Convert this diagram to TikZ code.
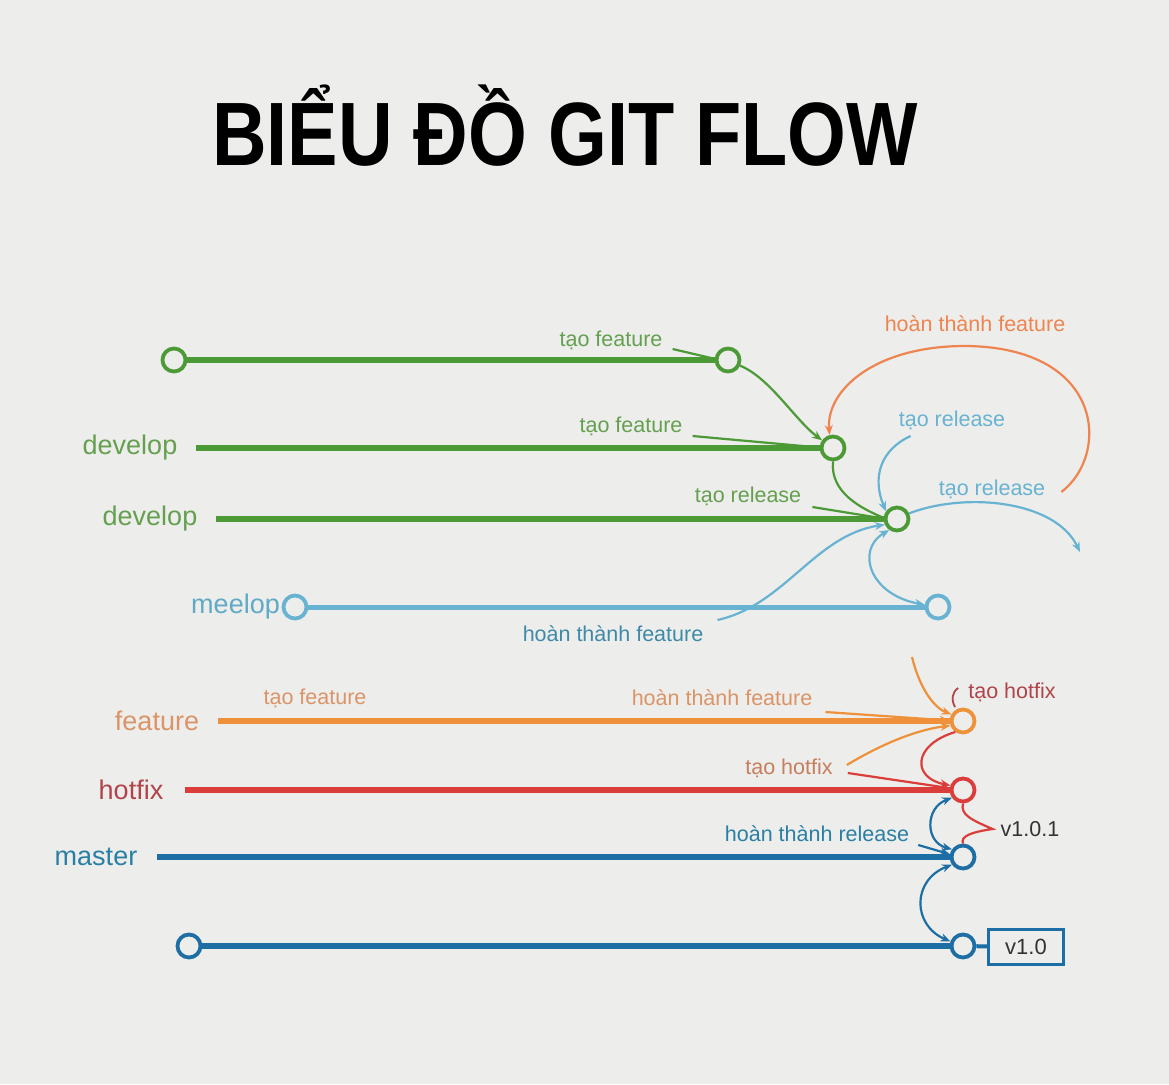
\documentclass[tikz,border=0pt]{standalone}
\usepackage{fontspec}
\setmainfont{Liberation Sans}
\usetikzlibrary{arrows.meta}
\definecolor{bg}{HTML}{EDEDEB}
\definecolor{cg}{HTML}{4C9A36}
\definecolor{tg}{HTML}{64A050}
\definecolor{cl}{HTML}{68B3D2}
\definecolor{tl}{HTML}{5FAAC5}
\definecolor{tl2}{HTML}{3E8AA8}
\definecolor{co}{HTML}{EE913A}
\definecolor{to}{HTML}{DB9468}
\definecolor{coa}{HTML}{EE8550}
\definecolor{cr}{HTML}{DB3E3A}
\definecolor{tr}{HTML}{B0444A}
\definecolor{tr2}{HTML}{C57E5E}
\definecolor{cb}{HTML}{1C6EA4}
\definecolor{tb}{HTML}{2A7FA5}
\definecolor{tk}{HTML}{333333}
\begin{document}
\begin{tikzpicture}[x=1pt,y=-1pt,
  commit/.style={circle, draw=#1, line width=3.8pt, minimum size=23pt, inner sep=0pt, fill=bg},
  branch/.style={line width=6.5pt, draw=#1},
  lbl/.style={font=\fontsize{27}{30}\selectfont, text=#1, inner sep=0pt},
  ann/.style={font=\fontsize{21.5}{24}\selectfont, text=#1, inner sep=0pt},
  flow/.style={line width=2.2pt, draw=#1, -{Stealth[length=10pt,width=8pt]}},
  bflow/.style={line width=2.2pt, draw=#1, {Stealth[length=10pt,width=8pt]}-{Stealth[length=10pt,width=8pt]}},
  lead/.style={line width=2.2pt, draw=#1}]
\fill[bg] (0,0) rectangle (1169,1084);
\useasboundingbox (0,0) rectangle (1169,1084);

% title
\node[anchor=base, inner sep=0pt, font=\bfseries\fontsize{90}{100}\selectfont] (title) at (565,165) {\scalebox{0.84}[1]{BIỂU ĐỒ GIT FLOW}};

% commits
\node[commit=cg] (g0) at (174,360) {};
\node[commit=cg] (g1) at (728,360) {};
\node[commit=cg] (g2) at (833,448) {};
\node[commit=cg] (g3) at (897,519) {};
\node[commit=cl] (m0) at (295,607) {};
\node[commit=cl] (m1) at (938,607) {};
\node[commit=co] (f1) at (963,721) {};
\node[commit=cr] (h1) at (963,790) {};
\node[commit=cb] (ma) at (963,857) {};
\node[commit=cb] (v0s) at (189,946) {};
\node[commit=cb] (v0) at (963,946) {};
\node[draw=cb, line width=2.5pt, minimum width=75pt, minimum height=35pt, inner sep=0pt, text=tk, font=\fontsize{22}{24}\selectfont] (box) at (1026,947) {v1.0};

% branch labels
\node[lbl=tg] (dev1) at (130,448) {develop};
\node[lbl=tg] (dev2) at (150,519) {develop};
\node[lbl=tl, anchor=east] (mee) at (280,607) {meelop};
\node[lbl=to] (feat) at (157,721) {feature};
\node[lbl=tr] (hot) at (131,790) {hotfix};
\node[lbl=tb] (mas) at (96,857) {master};

% annotation labels
\node[ann=tg] (tf1) at (611,340) {tạo feature};
\node[ann=tg] (tf2) at (631,426) {tạo feature};
\node[ann=tg] (trg) at (748,496) {tạo release};
\node[ann=coa] (hfo) at (975,324) {hoàn thành feature};
\node[ann=cl] (tr1) at (952,420) {tạo release};
\node[ann=cl] (tr2) at (992,489) {tạo release};
\node[ann=tl2] (hfb) at (613,634) {hoàn thành feature};
\node[ann=to] (tfo) at (315,698) {tạo feature};
\node[ann=to] (hff) at (722,698) {hoàn thành feature};
\node[ann=tr] (th1) at (1012,692) {tạo hotfix};
\node[ann=tr2] (th2) at (789,768) {tạo hotfix};
\node[ann=tb] (hfr) at (817,834) {hoàn thành release};
\node[ann=tk] (v101) at (1030,829) {v1.0.1};

% branches
\draw[branch=cg] (g0) -- (g1);
\draw[branch=cg] ([xshift=19pt]dev1.east) -- (g2);
\draw[branch=cg] ([xshift=19pt]dev2.east) -- (g3);
\draw[branch=cl, line width=5pt] (m0) -- (m1);
\draw[branch=co] ([xshift=19pt]feat.east) -- (f1);
\draw[branch=cr] ([xshift=22pt]hot.east) -- (h1);
\draw[branch=cb] ([xshift=20pt]mas.east) -- (ma);
\draw[branch=cb] (v0s) -- (v0);
\draw[branch=cb, line width=4pt] (v0) -- (box);

% green flows
\draw[lead=cg] ([shift={(10,9)}]tf1.east) -- (g1.175);
\draw[flow=cg] (g1.-25) .. controls (770,378) and (795,420) .. (g2.145);
\draw[lead=cg] ([shift={(10,10)}]tf2.east) -- (g2.178);
\draw[lead=cg] (g2.south) .. controls (830,492) and (860,508) .. (g3.175);
\draw[flow=cg] ([shift={(11,11)}]trg.east) -- (g3.178);

% orange loop
\coordinate (oa) at ([shift={(16,3)}]tr2.east);
\draw[flow=coa] (oa) .. controls (1110,455) and (1105,347) .. (965,346)
  .. controls (875,346) and (826,390) .. (g2.105);

% blue release flows
\draw[flow=cl] ([shift={(12,16)}]tr1.west) .. controls (880,450) and (872,478) .. (g3.145);
\coordinate (relend) at (1080,552);
\draw[flow=cl] (g3.25) .. controls (965,492) and (1055,500) .. (relend);
\draw[flow=cl] ([shift={(14,-14)}]hfb.east) .. controls (785,605) and (815,535) .. (g3.205);
\draw[bflow=cl] (g3.235) .. controls (855,550) and (870,595) .. (m1.170);

% orange / red hotfix flows
\coordinate (otop) at (912,657);
\draw[flow=co] (otop) .. controls (920,690) and (935,708) .. (f1.150);
\draw[lead=tr, line width=1.8pt] ([shift={(-10,-4)}]th1.west) .. controls (952,692) and (951,700) .. (955,707);
\draw[flow=co] ([shift={(14,-3)}]th2.east) .. controls (880,745) and (915,730) .. (f1.200);
\draw[flow=co] ([shift={(13,14)}]hff.east) -- (f1.178);
\draw[flow=cr] (f1.235) .. controls (912,745) and (912,778) .. (h1.160);
\draw[flow=cr] ([shift={(15,5)}]th2.east) -- (h1.172);

% v1.0.1 brace
\draw[lead=cr] (h1.south) .. controls (960,815) and (972,820) .. ([xshift=-8pt]v101.west)
  .. controls (972,832) and (960,836) .. (ma.north);

% master flows
\draw[bflow=cb] (h1.215) .. controls (925,808) and (925,842) .. (ma.145);
\draw[flow=cb] ([shift={(9,11)}]hfr.east) -- (ma.168);
\draw[bflow=cb] (ma.215) .. controls (912,880) and (912,925) .. (v0.160);
\end{tikzpicture}
\end{document}
